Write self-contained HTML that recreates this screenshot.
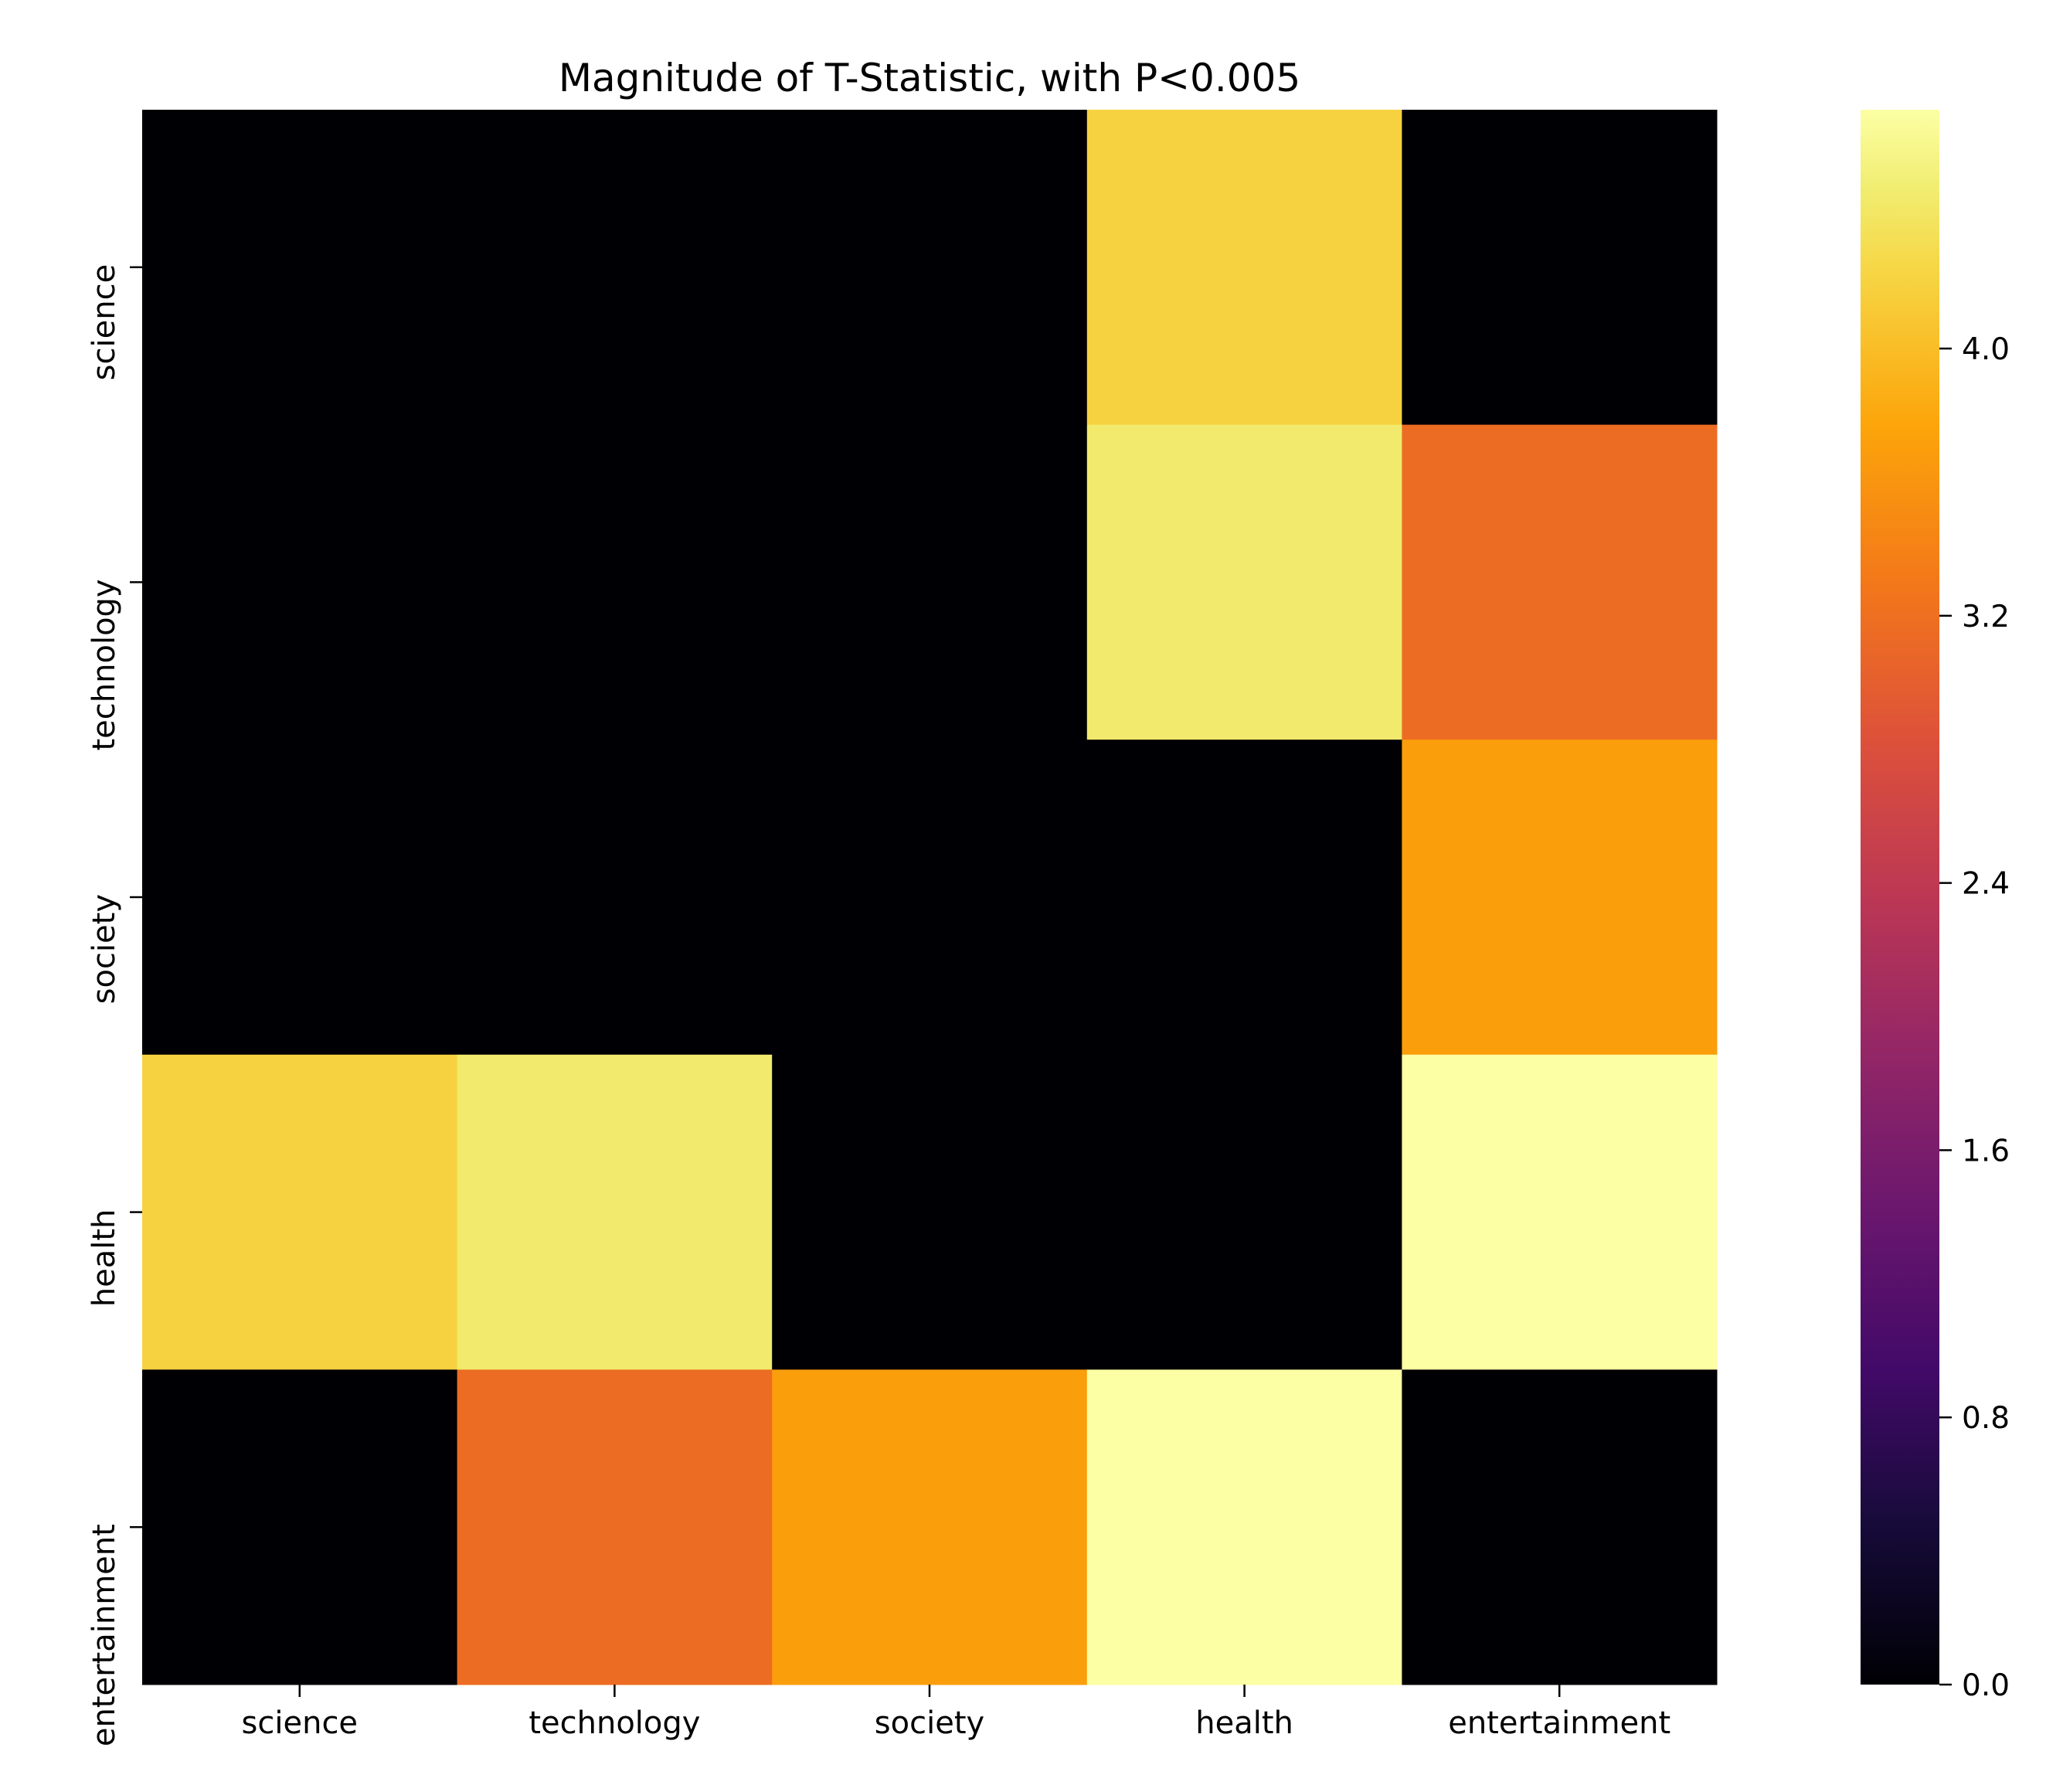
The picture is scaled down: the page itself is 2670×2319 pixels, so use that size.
<!DOCTYPE html>
<html><head><meta charset="utf-8"><style>
html,body{margin:0;padding:0;background:#fff;}
svg text{font-family:"DejaVu Sans","Liberation Sans",sans-serif;fill:#000;}
</style></head><body>
<svg id="chart" width="2670" height="2314" viewBox="0 0 2670 2314" xmlns="http://www.w3.org/2000/svg">
<defs><linearGradient id="inferno" x1="0" y1="1" x2="0" y2="0">
<stop offset="0" stop-color="#000004"/><stop offset="0.1" stop-color="#160b39"/><stop offset="0.2" stop-color="#420a68"/><stop offset="0.3" stop-color="#6a176e"/><stop offset="0.4" stop-color="#932667"/><stop offset="0.5" stop-color="#bc3754"/><stop offset="0.6" stop-color="#dd513a"/><stop offset="0.7" stop-color="#f37819"/><stop offset="0.8" stop-color="#fca50a"/><stop offset="0.9" stop-color="#f6d746"/><stop offset="0.95" stop-color="#f1ed71"/><stop offset="1" stop-color="#fcffa4"/>
</linearGradient></defs>
<text x="1203" y="118" font-size="50" text-anchor="middle">Magnitude of T-Statistic, with P&lt;0.005</text>
<g id="cells"></g><g id="axes"></g><g id="cbar"></g>
</svg>
<script>
const categories = ["science","technology","society","health","entertainment"];
const row0 = [0, 0, 0, 4.2, 0];
const row1 = [0, 0, 0, 4.45, 3.16];
const row2 = [0, 0, 0, 0, 3.7];
const row3 = [4.2, 4.45, 0, 0, 4.71];
const row4 = [0, 3.16, 3.7, 4.71, 0];
const cbarTicks = [0.0, 0.8, 1.6, 2.4, 3.2, 4.0];
const vmin = 0, vmax = 4.715;

const NS = "http://www.w3.org/2000/svg";
const L = 184, R = 2222, T = 142, B = 2180;
const rows = [row0,row1,row2,row3,row4];
const n = categories.length;
const cw = (R-L)/n, ch = (B-T)/n;
const xPos = i => L + i*cw;
const yPos = j => T + j*ch;
const stops = [[0,0,0,4],[.1,22,11,57],[.2,66,10,104],[.3,106,23,110],[.4,147,38,103],[.5,188,55,84],[.6,221,81,58],[.7,243,120,25],[.8,252,165,10],[.9,246,215,70],[.95,241,237,113],[1,252,255,164]];
function cmap(v){
  let t = Math.max(0, Math.min(1, (v-vmin)/(vmax-vmin)));
  for (let k=1;k<stops.length;k++){
    if (t<=stops[k][0]){
      const a=stops[k-1], b=stops[k], f=(t-a[0])/(b[0]-a[0]);
      return `rgb(${Math.round(a[1]+f*(b[1]-a[1]))},${Math.round(a[2]+f*(b[2]-a[2]))},${Math.round(a[3]+f*(b[3]-a[3]))})`;
    }
  }
  return "rgb(252,255,164)";
}
function mk(tag, attrs, parent){
  const e = document.createElementNS(NS, tag);
  for (const k in attrs) e.setAttribute(k, attrs[k]);
  parent.appendChild(e); return e;
}
const cells = document.getElementById("cells");
rows.forEach((row, j) => row.forEach((v, i) => {
  const r = mk("rect", {x:xPos(i), y:yPos(j), width:cw+0.5, height:ch+0.5, fill:cmap(v)}, cells);
  
  
}));
const axes = document.getElementById("axes");
categories.forEach((c, i) => {
  const cx = xPos(i) + cw/2;
  mk("line", {x1:cx, x2:cx, y1:B, y2:B+16, stroke:"#000", "stroke-width":2.5}, axes);
  const t = mk("text", {x:cx, y:2243, "font-size":40, "text-anchor":"middle"}, axes);
  t.textContent = c;
  
  
  const cy = yPos(i) + ch/2;
  mk("line", {x1:L-16, x2:L, y1:cy, y2:cy, stroke:"#000", "stroke-width":2.5}, axes);
  const ty = mk("text", {x:0, y:0, "font-size":40, "text-anchor":"end", transform:`translate(148,${cy-4}) rotate(-90)`}, axes);
  ty.textContent = c;
  
  
});
const cb = document.getElementById("cbar");
const CL = 2408, CR = 2510;
const cbar = mk("rect", {x:CL, y:T, width:CR-CL, height:B-T, fill:"url(#inferno)"}, cb);


const cy = v => B - (v-vmin)/(vmax-vmin)*(B-T);
cbarTicks.forEach(v => {
  mk("line", {x1:CR, x2:CR+16, y1:cy(v), y2:cy(v), stroke:"#000", "stroke-width":2.5}, cb);
  const t = mk("text", {x:2539, y:cy(v)+14, "font-size":39}, cb);
  t.textContent = v.toFixed(1);
  
  
});
</script>
</body></html>
